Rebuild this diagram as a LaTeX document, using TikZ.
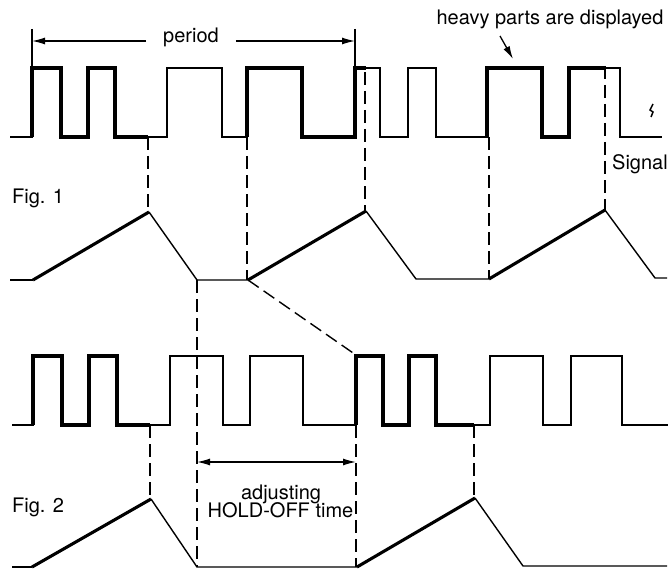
\documentclass[tikz,border=0pt]{standalone}
\usepackage{fontspec}
\setmainfont{TeX Gyre Heros}
\usetikzlibrary{arrows.meta}
\begin{document}
\begin{tikzpicture}[x=1pt,y=-1pt,
  thinline/.style={line width=1.4pt, line join=miter},
  heavy/.style={line width=3.1pt, line join=miter},
  dsh/.style={line width=1.4pt, dash pattern=on 13pt off 6pt},
  arr/.style={line width=1.3pt,-{Latex[length=13pt,width=7pt]}},
  darr/.style={line width=1.3pt,{Latex[length=13pt,width=7pt]}-{Latex[length=13pt,width=7pt]}},
  lbl/.style={font=\fontsize{20}{18}\selectfont, inner sep=0pt},
]
\useasboundingbox (0,0) rectangle (671,572);

% ---------------- Fig. 1 signal ----------------
\draw[thinline] (10,137) -- (32,137) -- (32,68) -- (61,68) -- (61,137) -- (88,137) -- (88,68) -- (115,68) -- (115,137)
  -- (167,137) -- (167,68) -- (222,68) -- (222,137) -- (247,137) -- (247,68) -- (302,68) -- (302,137)
  -- (355,137) -- (355,68) -- (380,68) -- (380,137) -- (408,137) -- (408,68) -- (436,68) -- (436,137)
  -- (487,137) -- (487,68) -- (542,68) -- (542,137) -- (569,137) -- (569,68) -- (620,68) -- (620,137) -- (662,137);
\draw[heavy] (32,137) -- (32,68) -- (61,68) -- (61,137) -- (88,137) -- (88,68) -- (115,68) -- (115,137) -- (148,137);
\draw[heavy] (247,137) -- (247,68) -- (302,68) -- (302,137) -- (355,137) -- (355,68) -- (366,68);
\draw[heavy] (487,137) -- (487,68) -- (542,68) -- (542,137) -- (569,137) -- (569,68) -- (605,68);

% ---------------- Fig. 1 ramp ----------------
\draw[thinline] (10,280) -- (33,280);
\draw[heavy] (33,280) -- (149,212);
\draw[thinline] (149,212) -- (197,280) -- (248,280);
\draw[heavy] (248,280) -- (366,211);
\draw[thinline] (366,211) -- (416,279) -- (489,279);
\draw[heavy] (489,279) -- (605,210);
\draw[thinline] (605,210) -- (655,278) -- (667,278);

% ---------------- Fig. 2 signal ----------------
\draw[thinline] (12,425) -- (33,425) -- (33,356) -- (62,356) -- (62,425) -- (89,425) -- (89,356) -- (117,356) -- (117,425)
  -- (170,425) -- (170,356) -- (223,356) -- (223,425) -- (250,425) -- (250,356) -- (303,356) -- (303,425)
  -- (356,425) -- (356,356) -- (383,356) -- (383,425) -- (409,425) -- (409,356) -- (436,356) -- (436,425)
  -- (490,425) -- (490,356) -- (543,356) -- (543,425) -- (571,425) -- (571,356) -- (622,356) -- (622,425) -- (668,425);
\draw[heavy] (33,425) -- (33,356) -- (62,356) -- (62,425) -- (89,425) -- (89,356) -- (117,356) -- (117,425) -- (150,425);
\draw[heavy] (356,425) -- (356,356) -- (383,356) -- (383,425) -- (409,425) -- (409,356) -- (436,356) -- (436,425) -- (474,425);

% ---------------- Fig. 2 ramp ----------------
\draw[thinline] (12,567) -- (32,567);
\draw[heavy] (32,567) -- (151,499);
\draw[thinline] (151,499) -- (197,567) -- (357,567);
\draw[heavy] (357,567) -- (475,498);
\draw[thinline] (475,498) -- (523,566) -- (667,566);

% ---------------- dashed guide lines ----------------
\draw[dsh] (148,137) -- (148,212);
\draw[dsh] (247,137) -- (247,280);
\draw[dsh] (365,72) -- (365,211);
\draw[dsh] (489,137) -- (489,279);
\draw[dsh] (605,66) -- (605,210);
\draw[dsh] (248,280) -- (356,355);
\draw[dsh] (197,280) -- (197,567);
\draw[dsh] (150,425) -- (150,499);
\draw[dsh] (356,425) -- (356,567);
\draw[dsh] (474,425) -- (474,498);

% ---------------- period arrow ----------------
\draw[thinline] (32,29) -- (32,68);
\draw[thinline] (355,29) -- (355,68);
\node[lbl, anchor=base, inner xsep=17pt] (period) at (191,42.5) {period};
\coordinate (pL) at (32,41);
\coordinate (pR) at (355,41);
\draw[arr] (period.west |- pL) -- (pL);
\draw[arr] (period.east |- pR) -- (pR);

% ---------------- heavy parts label ----------------
\node[lbl, anchor=base] (heavylbl) at (550,25) {heavy parts are displayed};
\coordinate (hs) at (500,36);
\coordinate (hv) at (513,59);
\draw[arr] (hs) -- (hv);

% small mark
\draw[line width=1.5pt] (653,104) -- (650,110) -- (653,112) -- (651,117);

% ---------------- labels ----------------
\node[lbl, anchor=base west] (signal) at (612,169) {Signal};
\node[lbl, anchor=base west] (fig1) at (12,203) {Fig. 1};
\node[lbl, anchor=base west] (fig2) at (12,512) {Fig. 2};

% ---------------- hold-off arrow ----------------
\coordinate (hoL) at (197,462);
\coordinate (hoR) at (356,462);
\draw[darr] (hoL) -- (hoR);
\node[lbl, anchor=base] (adj) at (281,499) {adjusting};
\node[lbl, anchor=base] (hold) at (280.5,517) {HOLD-OFF time};
\end{tikzpicture}
\end{document}
